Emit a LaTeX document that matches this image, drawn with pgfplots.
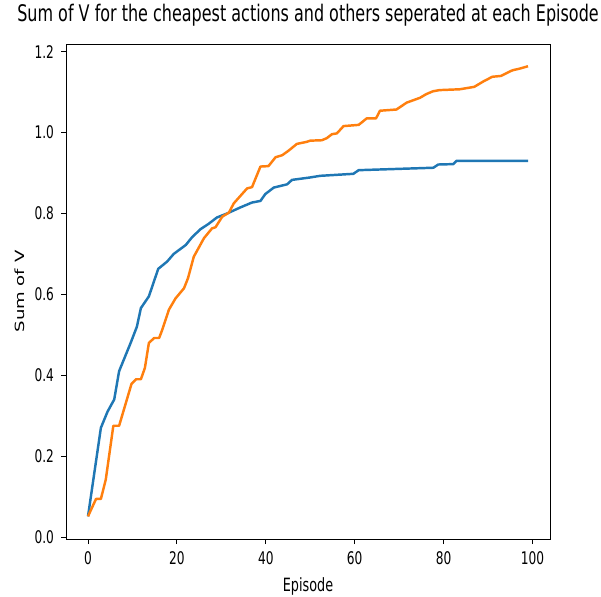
\documentclass[border=0pt]{standalone}
\usepackage{fontspec}
\setmainfont{DejaVu Sans}[FakeStretch=0.7]
\newfontfamily\plainsans{DejaVu Sans}
\usepackage{pgfplots}
\pgfplotsset{compat=1.18}
\definecolor{mplblue}{HTML}{1F77B4}
\definecolor{mplorange}{HTML}{FF7F0E}
\begin{document}
\begin{tikzpicture}
\path[use as bounding box] (-1.32,-1.14) rectangle (10.70,10.78);
\begin{axis}[
  at={(0,0)},anchor=south west,
  scale only axis,width=9.68cm,height=9.9cm,
  xmin=-4.95,xmax=103.95,ymin=-0.005,ymax=1.219,
  xtick={0,20,40,60,80,100},
  ytick={0,0.2,0.4,0.6,0.8,1.0,1.2},
  yticklabel style={/pgf/number format/.cd,fixed,fixed zerofill,precision=1},
  /pgf/number format/assume math mode=true,
  tick align=outside,tick pos=left,
  major tick length=0.1cm,
  tick style={black,line width=0.5pt},
  axis line style={line width=0.5pt},
  tick label style={font=\fontsize{9.9}{11}\selectfont},
  xlabel style={font=\fontsize{10.4}{12}\selectfont,at={(0.5,-0.095)},anchor=center},
  ylabel style={at={(-0.095,0.5)},anchor=center},
  title style={font=\fontsize{13}{15}\selectfont,at={(0.5,1)},anchor=base,yshift=0.24cm},
  title={Sum of V for the cheapest actions and others seperated at each Episode},
  xlabel={Episode},
  ylabel={\scalebox{1}[0.7]{\plainsans\fontsize{10.3}{12}\selectfont Sum of V}},
  line width=1.4pt
]
\addplot[color=mplblue,line join=round] coordinates {
(0,0.051) (2.9,0.27) (4.4,0.31) (5.9,0.34) (7,0.41) (9.6,0.48) (11,0.52) (11.9,0.566) (13.7,0.595) (15.8,0.663) (17.8,0.681) (19.3,0.70) (22,0.722) (23.4,0.741) (25.3,0.761) (27.1,0.774) (29,0.79) (31.3,0.80) (34.3,0.815) (36.9,0.827) (38.8,0.831) (39.9,0.848) (41.8,0.864) (44.8,0.872) (45.9,0.883) (50,0.889) (52.2,0.893) (59.7,0.898) (60.9,0.907) (77.7,0.913) (78.8,0.921) (82.2,0.922) (82.9,0.930) (99,0.930)
};
\addplot[color=mplorange,line join=round] coordinates {
(0,0.051) (1.8,0.094) (2.9,0.094) (4,0.142) (5.7,0.275) (7,0.275) (9.8,0.379) (10.8,0.39) (11.9,0.39) (12.8,0.418) (13.7,0.48) (14.9,0.492) (16,0.492) (16.7,0.512) (18.2,0.562) (19.7,0.59) (21.6,0.615) (22.5,0.64) (23.8,0.693) (26.1,0.739) (27.9,0.763) (28.7,0.766) (30.2,0.792) (31.7,0.802) (32.8,0.825) (35.8,0.862) (36.9,0.865) (38.8,0.916) (40.6,0.917) (42.2,0.939) (43.7,0.944) (45.1,0.955) (47,0.972) (49.2,0.977) (50,0.98) (52.6,0.981) (53.7,0.986) (54.9,0.996) (56,0.998) (57.5,1.016) (60.9,1.019) (62.7,1.035) (64.8,1.035) (65.7,1.054) (69.4,1.057) (71.7,1.074) (74.7,1.086) (76.1,1.095) (77.6,1.102) (79.1,1.105) (83.6,1.107) (86.9,1.113) (89.2,1.128) (91,1.138) (92.9,1.14) (95.5,1.154) (97.1,1.158) (99,1.164)
};
\end{axis}
\end{tikzpicture}
\end{document}
